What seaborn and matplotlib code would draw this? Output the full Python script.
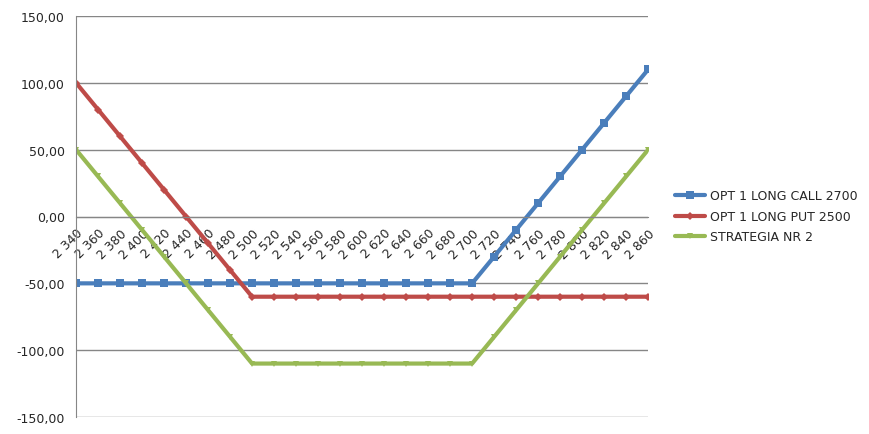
import numpy as np
import pandas as pd
import matplotlib
matplotlib.use('Agg')
import matplotlib.pyplot as plt
import seaborn as sns

# Data
strikes = [2340, 2360, 2380, 2400, 2420, 2440, 2460, 2480, 2500, 2520, 2540, 2560, 2580, 2600,
           2620, 2640, 2660, 2680, 2700, 2720, 2740, 2760, 2780, 2800, 2820, 2840, 2860]
long_call = [-50, -50, -50, -50, -50, -50, -50, -50, -50, -50, -50, -50, -50, -50,
             -50, -50, -50, -50, -50, -30, -10, 10, 30, 50, 70, 90, 110]
long_put = [100, 80, 60, 40, 20, 0, -20, -40, -60, -60, -60, -60, -60, -60,
            -60, -60, -60, -60, -60, -60, -60, -60, -60, -60, -60, -60, -60]
strategy = [50, 30, 10, -10, -30, -50, -70, -90, -110, -110, -110, -110, -110, -110,
            -110, -110, -110, -110, -110, -90, -70, -50, -30, -10, 10, 30, 50]

names = ['OPT 1 LONG CALL 2700', 'OPT 1 LONG PUT 2500', 'STRATEGIA NR 2']
colors = ['#4A7EBB', '#BE4B48', '#98B954']
markers = ['s', 'D', 'v']
msizes = [6, 4, 5]

sns.set_style('white')
plt.rcParams['font.family'] = ['DejaVu Sans']
plt.rcParams['font.size'] = 9

pos = np.arange(len(strikes))
df = pd.DataFrame({'pos': pos, names[0]: long_call, names[1]: long_put, names[2]: strategy})

fig = plt.figure(figsize=(8.7, 4.35), dpi=100)
ax = fig.add_axes([0.0874, 0.039, 0.6576, 0.922])

for name, c, m, ms in zip(names, colors, markers, msizes):
    sns.lineplot(data=df, x='pos', y=name, ax=ax, color=c, linewidth=3, marker=m,
                 markersize=ms, markeredgewidth=0, label=name)

ax.set_xlim(0, len(strikes) - 1)
ax.set_ylim(-150, 150)
ax.set_yticks([-150, -100, -50, 0, 50, 100, 150])
ax.set_yticklabels([f'{v:.2f}'.replace('.', ',') for v in [-150, -100, -50, 0, 50, 100, 150]])
ax.grid(axis='y', color='#868686', linewidth=1)
ax.set_axisbelow(True)

ax.spines['top'].set_visible(False)
ax.spines['right'].set_visible(False)
ax.spines['left'].set_color('#868686')
ax.spines['bottom'].set_color('#868686')
ax.spines['bottom'].set_position(('data', 0))

ax.set_xticks(pos)
ax.set_xticklabels([f'{s // 1000} {s % 1000:03d}' for s in strikes], rotation=45,
                   ha='right', va='top', rotation_mode='anchor')
ax.tick_params(axis='x', direction='out', length=5, color='#868686', pad=2)
ax.tick_params(axis='y', direction='out', length=5, color='#868686', pad=3)
ax.set_xlabel('')
ax.set_ylabel('')

ax.legend(loc='center left', bbox_to_anchor=(0.776, 0.5), bbox_transform=fig.transFigure,
          frameon=False, fontsize=9, handlelength=2.4, handletextpad=0.4,
          borderaxespad=0, borderpad=0, labelspacing=0.6)

fig.savefig('out.png', dpi=100)
